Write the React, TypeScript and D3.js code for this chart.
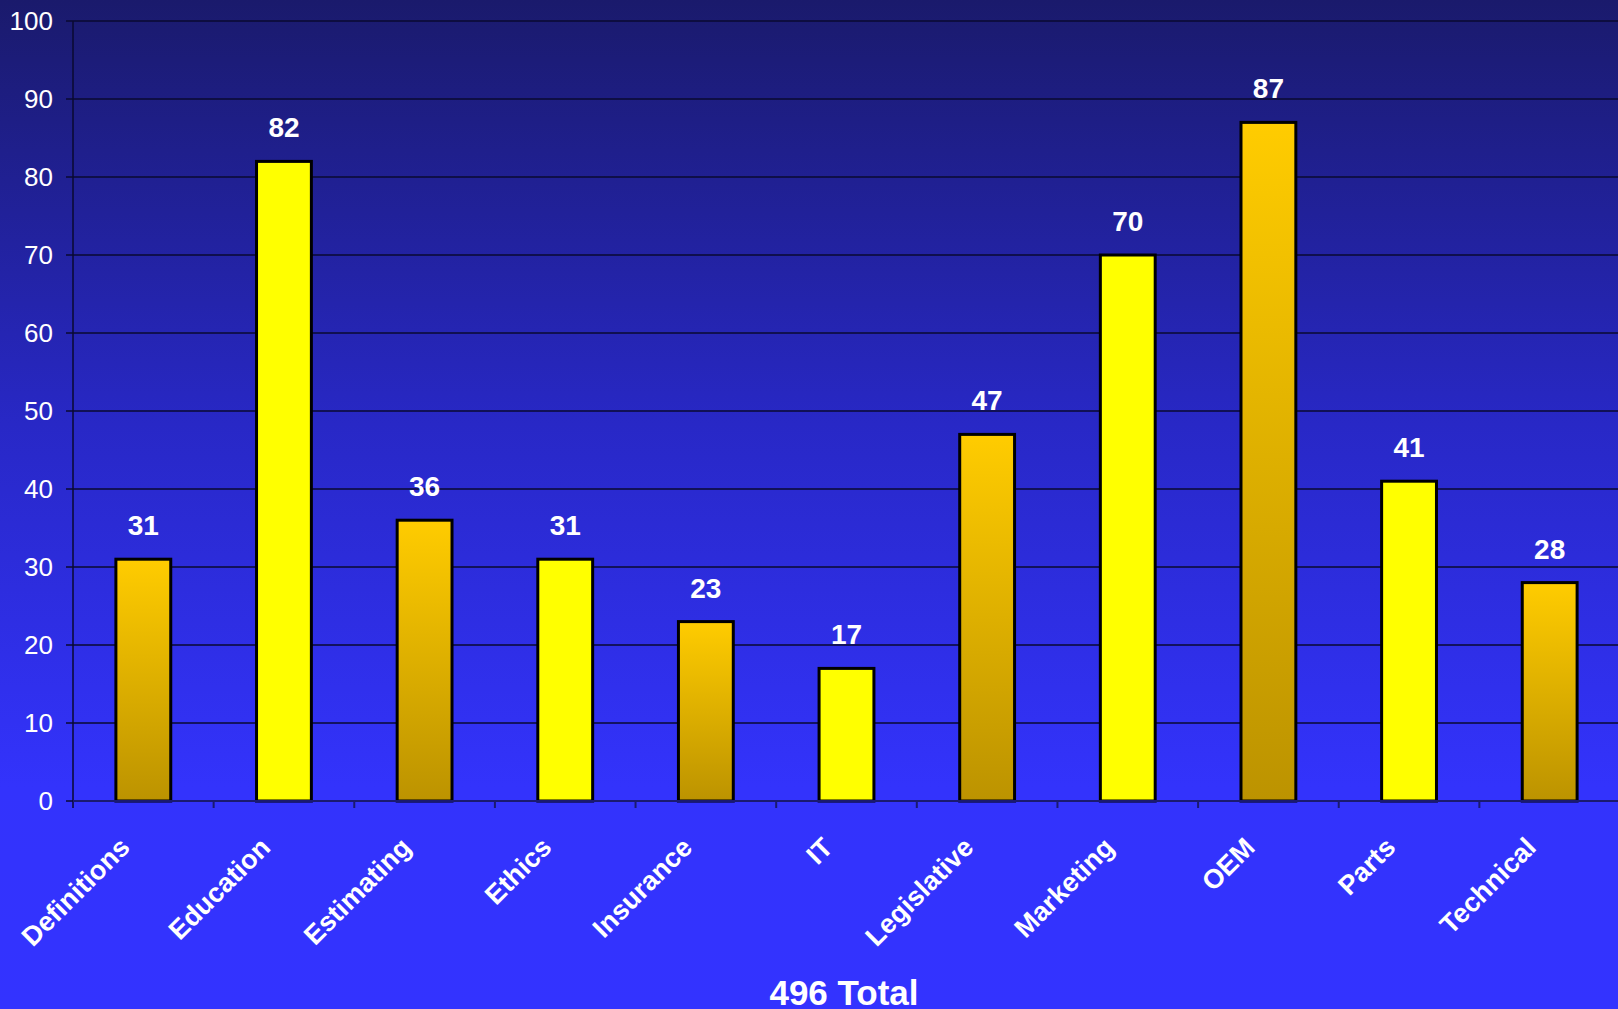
import React from "react";
import * as d3 from "d3";

const categories = ["Definitions", "Education", "Estimating", "Ethics", "Insurance", "IT", "Legislative", "Marketing", "OEM", "Parts", "Technical"];
const values = [31, 82, 36, 31, 23, 17, 47, 70, 87, 41, 28];
const yTicks = [0, 10, 20, 30, 40, 50, 60, 70, 80, 90, 100];
const totalLabel = "496 Total";

const W = 1618;
const H = 1009;
const left = 73;
const right = 1620;
const top = 21;
const bottom = 801;

export default function App() {
  const x = d3.scaleBand<string>().domain(categories).range([left, right]).paddingInner(0.61).paddingOuter(0.305);
  const bandX = d3.scaleBand<string>().domain(categories).range([left, right]).padding(0);
  const y = d3.scaleLinear().domain([0, 100]).range([bottom, top]);
  const font = "'Liberation Sans', Arial, Helvetica, sans-serif";
  const bw = bandX.bandwidth();
  return (
    <svg width={W} height={H} style={{ position: "absolute", left: 0, top: 0, display: "block" }} fontFamily={font}>
      <defs>
        <linearGradient id="bg" x1="0" y1="0" x2="0" y2="1">
          <stop offset="0" stopColor="#1a1a6c" />
          <stop offset="0.42" stopColor="#2828c6" />
          <stop offset="0.78" stopColor="#3333fc" />
          <stop offset="1" stopColor="#3333ff" />
        </linearGradient>
        <linearGradient id="gold" x1="0" y1="0" x2="0" y2="1">
          <stop offset="0" stopColor="#ffcc00" />
          <stop offset="1" stopColor="#bc9300" />
        </linearGradient>
      </defs>
      <rect x={0} y={0} width={W} height={H} fill="url(#bg)" />
      {yTicks.map((t) => (
        <g key={t}>
          {t > 0 && <line x1={left} x2={right} y1={y(t)} y2={y(t)} stroke="#0a0a30" strokeWidth={1.5} />}
          <line x1={left - 7} x2={left} y1={y(t)} y2={y(t)} stroke="#0a0a30" strokeWidth={1.5} />
          <text x={53} y={y(t) + 9} textAnchor="end" fontSize={26} fill="#ffffff">{t}</text>
        </g>
      ))}
      <line x1={left} x2={left} y1={top} y2={bottom + 7} stroke="#0a0a30" strokeWidth={1.5} />
      {categories.map((c, i) => (
        <rect
          key={c}
          x={x(c)}
          y={y(values[i])}
          width={x.bandwidth()}
          height={bottom - y(values[i])}
          fill={i % 2 === 0 ? "url(#gold)" : "#ffff00"}
          stroke="#000000"
          strokeWidth={3}
        />
      ))}
      <line x1={left} x2={right} y1={bottom} y2={bottom} stroke="#1a1a70" strokeWidth={2} />
      {categories.map((c) => (
        <line key={"t" + c} x1={bandX(c)! + bw} x2={bandX(c)! + bw} y1={bottom} y2={bottom + 7} stroke="#1a1a70" strokeWidth={2} />
      ))}
      {categories.map((c, i) => (
        <text key={"v" + c} x={x(c)! + x.bandwidth() / 2} y={y(values[i]) - 24} textAnchor="middle" fontSize={28} fontWeight="bold" fill="#ffffff">
          {values[i]}
        </text>
      ))}
      {categories.map((c) => (
        <text
          key={"c" + c}
          transform={`translate(${bandX(c)! + bw / 2 - 12},${849}) rotate(-45)`}
          textAnchor="end"
          fontSize={27}
          fontWeight="bold"
          fill="#ffffff"
        >
          {c}
        </text>
      ))}
      <text x={844} y={1005} textAnchor="middle" fontSize={35} fontWeight="bold" fill="#ffffff">{totalLabel}</text>
    </svg>
  );
}
